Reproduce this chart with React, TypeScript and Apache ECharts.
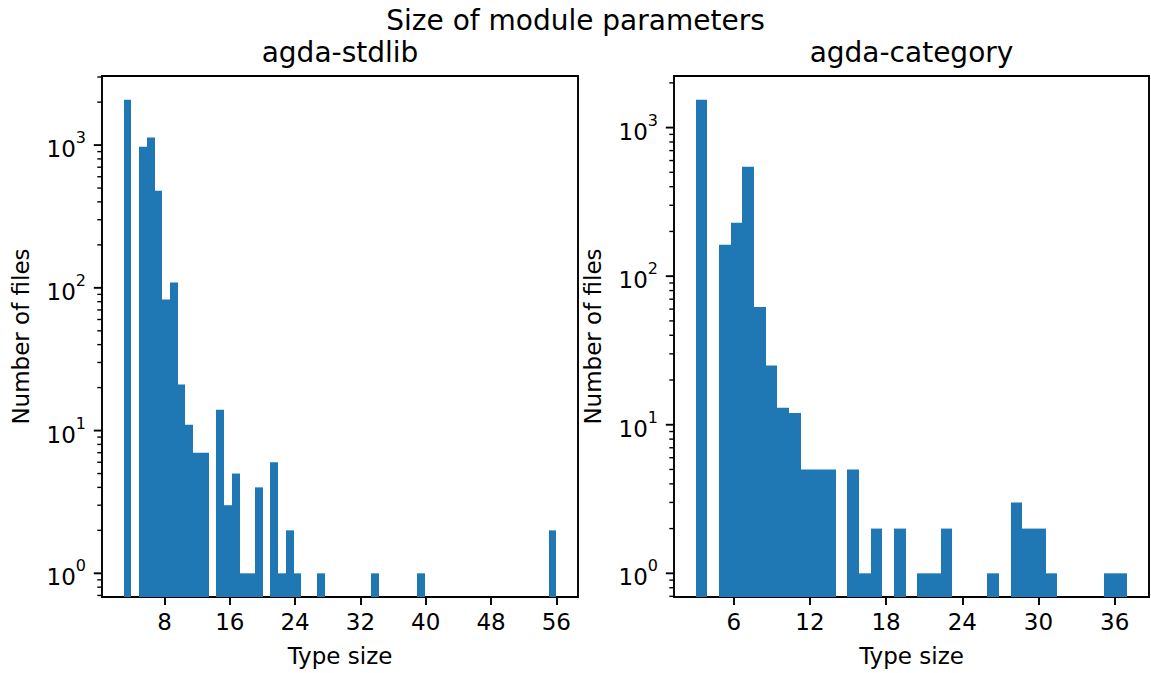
import React, { useEffect, useRef } from "react";
import * as echarts from "echarts";

// ---------- texts ----------
const suptitle = "Size of module parameters";
const stdlibTitle = "agda-stdlib";
const categoryTitle = "agda-category";
const xLabel = "Type size";
const yLabel = "Number of files";

// ---------- agda-stdlib histogram: 56 equal bins over type sizes 3..56 ----------
const stdlibRange = [3, 56];
const stdlibCounts = [
  2080, 0, 973, 1128, 479, 83, 109, 21, 11, 7,
  7, 0, 14, 3, 5, 1, 1, 4, 0, 6,
  1, 2, 1, 0, 0, 1, 0, 0, 0, 0,
  0, 0, 1, 0, 0, 0, 0, 0, 1, 0,
  0, 0, 0, 0, 0, 0, 0, 0, 0, 0,
  0, 0, 0, 0, 0, 2,
];
const stdlibXTicks = [8, 16, 24, 32, 40, 48, 56];

// ---------- agda-category histogram: 37 equal bins over type sizes 3..37 ----------
const categoryRange = [3, 37];
const categoryCounts = [
  1541, 0, 163, 229, 546, 62, 25, 13, 12, 5,
  5, 5, 0, 5, 1, 2, 0, 2, 0, 1,
  1, 2, 0, 0, 0, 1, 0, 3, 2, 2,
  1, 0, 0, 0, 0, 1, 1,
];
const categoryXTicks = [6, 12, 18, 24, 30, 36];

// ---------- log-axis tick values ----------
const yMajorTicks = [1, 10, 100, 1000];
const yMinorTicks = [
  0.6, 0.7, 0.8, 0.9,
  2, 3, 4, 5, 6, 7, 8, 9,
  20, 30, 40, 50, 60, 70, 80, 90,
  200, 300, 400, 500, 600, 700, 800, 900,
  2000, 3000,
];

const BAR = "#1f77b4";
const FONT = "DejaVu Sans";
const W = 1151;
const H = 673;

function binsOf(range: number[], counts: number[]) {
  const w = (range[1] - range[0]) / counts.length;
  const out: number[][] = [];
  counts.forEach((c, i) => {
    if (c > 0) out.push([range[0] + i * w, range[0] + (i + 1) * w, c]);
  });
  return out;
}

// matplotlib-like 5% autoscale margins
function linLimits(range: number[]) {
  const m = (range[1] - range[0]) * 0.05;
  return [range[0] - m, range[1] + m];
}
function logLimits(counts: number[]) {
  const lo = 0;
  const hi = Math.log10(Math.max(...counts));
  const m = (hi - lo) * 0.05;
  return [Math.pow(10, lo - m), Math.pow(10, hi + m)];
}

function supLabel(v: number) {
  const e = Math.log10(v);
  const r = Math.round(e);
  if (Math.abs(e - r) > 1e-6) return "";
  return "{b|10}{s|" + r + "}";
}

export default function App() {
  const ref = useRef<HTMLDivElement>(null);
  useEffect(() => {
    if (!ref.current) return;
    const chart = echarts.init(ref.current, undefined, { renderer: "svg" });

    const grids = [
      { left: 102, top: 76, width: 476, height: 521 },
      { left: 674, top: 76, width: 475, height: 521 },
    ];
    const panels = [
      { range: stdlibRange, counts: stdlibCounts, ticks: stdlibXTicks },
      { range: categoryRange, counts: categoryCounts, ticks: categoryXTicks },
    ];

    const xAxes: any[] = [];
    const yAxes: any[] = [];
    const series: any[] = [];

    panels.forEach((p, i) => {
      const xl = linLimits(p.range);
      const yl = logLimits(p.counts);
      xAxes.push({
        type: "value",
        gridIndex: i,
        min: xl[0],
        max: xl[1],
        axisLine: { show: false },
        splitLine: { show: false },
        axisTick: {
          show: true,
          customValues: p.ticks,
          length: 8,
          lineStyle: { color: "#000", width: 1.9 },
        },
        axisLabel: {
          customValues: p.ticks,
          fontFamily: FONT,
          fontSize: 23,
          color: "#000",
          margin: 13,
        },
        name: xLabel,
        nameLocation: "middle",
        nameGap: 47,
        nameTextStyle: { fontFamily: FONT, fontSize: 23, color: "#000" },
      });
      yAxes.push({
        type: "log",
        logBase: 10,
        gridIndex: i,
        min: yl[0],
        max: yl[1],
        axisLine: { show: false },
        splitLine: { show: false },
        axisTick: { show: false },
        minorTick: { show: false },
        axisLabel: {
          formatter: supLabel,
          margin: 16,
          color: "#000",
          fontFamily: FONT,
          rich: {
            b: { fontFamily: FONT, fontSize: 23, lineHeight: 31, color: "#000", verticalAlign: "bottom" },
            s: { fontFamily: FONT, fontSize: 16, lineHeight: 16, color: "#000", verticalAlign: "top" },
          },
        },
        name: yLabel,
        nameLocation: "middle",
        nameGap: 70,
        nameTextStyle: { fontFamily: FONT, fontSize: 23, color: "#000" },
      });

      series.push({
        type: "custom",
        xAxisIndex: i,
        yAxisIndex: i,
        clip: true,
        encode: { x: [0, 1], y: 2 },
        data: binsOf(p.range, p.counts),
        renderItem: (params: any, api: any) => {
          const x0 = api.value(0);
          const x1 = api.value(1);
          const c = api.value(2);
          const top = api.coord([x0, c]);
          const bot = api.coord([x1, yl[0]]);
          const left = Math.round(top[0]);
          const right = Math.round(bot[0]);
          return {
            type: "rect",
            shape: { x: left, y: top[1], width: right - left, height: bot[1] - top[1] },
            style: { fill: BAR },
          };
        },
      });

      const tickData: number[][] = [];
      yMajorTicks.forEach((v) => {
        if (v >= yl[0] && v <= yl[1]) tickData.push([xl[0], v, 1]);
      });
      yMinorTicks.forEach((v) => {
        if (v >= yl[0] && v <= yl[1]) tickData.push([xl[0], v, 0]);
      });
      series.push({
        type: "custom",
        xAxisIndex: i,
        yAxisIndex: i,
        clip: false,
        silent: true,
        encode: { x: 0, y: 1 },
        data: tickData,
        renderItem: (params: any, api: any) => {
          const pt = api.coord([api.value(0), api.value(1)]);
          const major = api.value(2) === 1;
          const len = major ? 8.2 : 4.7;
          return {
            type: "line",
            shape: { x1: pt[0] - len, y1: pt[1], x2: pt[0], y2: pt[1] },
            style: { stroke: "#000", lineWidth: major ? 1.9 : 1.4 },
          };
        },
      });
    });

    chart.setOption({
      animation: false,
      backgroundColor: "#fff",
      textStyle: { fontFamily: FONT },
      grid: grids.map((g) => ({
        ...g,
        show: true,
        borderColor: "#000",
        borderWidth: 1.9,
        backgroundColor: "transparent",
        containLabel: false,
      })),
      xAxis: xAxes,
      yAxis: yAxes,
      series,
      graphic: [
        {
          type: "text",
          x: 575.5,
          y: 20,
          style: { text: suptitle, fontFamily: FONT, fontSize: 28, fill: "#000", align: "center", verticalAlign: "middle" },
        },
        {
          type: "text",
          x: 102 + 476 / 2,
          y: 52,
          style: { text: stdlibTitle, fontFamily: FONT, fontSize: 28, fill: "#000", align: "center", verticalAlign: "middle" },
        },
        {
          type: "text",
          x: 674 + 475 / 2,
          y: 52,
          style: { text: categoryTitle, fontFamily: FONT, fontSize: 28, fill: "#000", align: "center", verticalAlign: "middle" },
        },
      ],
    });
    return () => chart.dispose();
  }, []);

  return (
    <div
      ref={ref}
      style={{ position: "absolute", left: 0, top: 0, width: W, height: H, background: "#fff" }}
    />
  );
}
